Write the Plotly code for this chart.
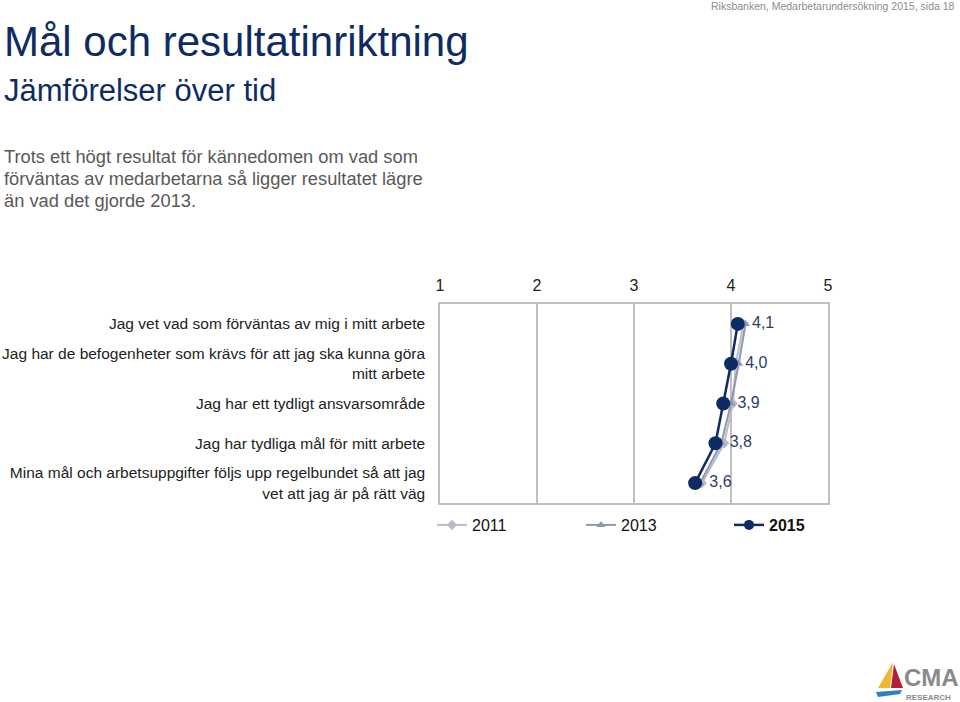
import plotly.graph_objects as go

categories = [
    "Jag vet vad som förväntas av mig i mitt arbete",
    "Jag har de befogenheter som krävs för att jag ska kunna göra<br>mitt arbete",
    "Jag har ett tydligt ansvarsområde",
    "Jag har tydliga mål för mitt arbete",
    "Mina mål och arbetsuppgifter följs upp regelbundet så att jag<br>vet att jag är på rätt väg",
]
v2011 = [4.13, 4.05, 4.02, 3.93, 3.70]
v2013 = [4.15, 4.08, 4.00, 3.90, 3.68]
v2015 = [4.07, 4.00, 3.92, 3.84, 3.63]
labels2015 = ["4,1", "4,0", "3,9", "3,8", "3,6"]
x_ticks = [1, 2, 3, 4, 5]

FONT = "Liberation Sans, Arial, sans-serif"
NAVY = "#0E2C63"

def px_x(p):
    return (p - 440) / 388

def px_y(p):
    return (503 - p) / 199

fig = go.Figure()
fig.add_trace(go.Scatter(
    x=v2011, y=categories, mode="lines+markers", name="2011", legend="legend",
    line=dict(color="#B8BBCB", width=2),
    marker=dict(symbol="diamond", size=8, color="#B8BBCB"),
))
fig.add_trace(go.Scatter(
    x=v2013, y=categories, mode="lines+markers", name="2013", legend="legend2",
    line=dict(color="#9097B0", width=2),
    marker=dict(symbol="triangle-up", size=8, color="#9097B0"),
))
fig.add_trace(go.Scatter(
    x=v2015, y=categories, mode="lines+markers+text", name="2015", showlegend=False,
    line=dict(color=NAVY, width=2.5),
    marker=dict(symbol="circle", size=14, color=NAVY),
    text=[" " + t for t in labels2015], textposition="middle right",
    textfont=dict(family=FONT, size=16, color="#2E3D66"),
))
# legend entry for 2015 with a smaller marker, as in the reference
fig.add_trace(go.Scatter(
    x=[None], y=[None], mode="lines+markers", name="<b>2015</b>", legend="legend3",
    line=dict(color=NAVY, width=2.5),
    marker=dict(symbol="circle", size=10, color=NAVY),
))

leg_common = dict(
    orientation="h", yanchor="middle", y=px_y(525), xanchor="left",
    font=dict(family=FONT, size=16, color="#111111"),
    itemwidth=30, bgcolor="rgba(0,0,0,0)",
)

fig.update_layout(
    width=960, height=702,
    margin=dict(l=440, r=132, t=304, b=199, autoexpand=False),
    paper_bgcolor="white", plot_bgcolor="white",
    font=dict(family=FONT, size=15, color="#222222"),
    showlegend=True,
    legend=dict(x=px_x(432), **leg_common),
    legend2=dict(x=px_x(581), **leg_common),
    legend3=dict(x=px_x(729), **leg_common),
    xaxis=dict(
        range=[1, 5], side="top", tickvals=x_ticks, ticktext=[str(t) for t in x_ticks],
        showgrid=True, gridcolor="#BFBFBF", gridwidth=1.5,
        showline=True, linecolor="#BFBFBF", linewidth=1.5, mirror=True,
        zeroline=False, ticks="", ticklabelstandoff=5,
        tickfont=dict(size=16, color="#222222"),
    ),
    yaxis=dict(
        categoryorder="array", categoryarray=categories,
        range=[4.5, -0.5], showgrid=False,
        showline=True, linecolor="#BFBFBF", linewidth=1.5, mirror=True,
        ticks="", ticklabelstandoff=10,
        tickfont=dict(size=15.5, color="#222222"),
    ),
)

anns = [
    dict(text="Mål och resultatinriktning", x=2, y=42, size=42, color=NAVY),
    dict(text="Jämförelser över tid", x=2, y=91, size=31, color=NAVY),
    dict(text="Trots ett högt resultat för kännedomen om vad som", x=2, y=156, size=18.3, color="#595959"),
    dict(text="förväntas av medarbetarna så ligger resultatet lägre", x=2, y=178, size=18.3, color="#595959"),
    dict(text="än vad det gjorde 2013.", x=2, y=200, size=18.3, color="#595959"),
]
for a in anns:
    fig.add_annotation(
        text=a["text"], xref="paper", yref="paper",
        x=px_x(a["x"]), y=px_y(a["y"]),
        xanchor="left", yanchor="middle", showarrow=False,
        font=dict(family=FONT, size=a["size"], color=a["color"]),
    )
fig.add_annotation(
    text="Riksbanken, Medarbetarundersökning 2015, sida 18", xref="paper", yref="paper",
    x=px_x(957), y=px_y(6), xanchor="right", yanchor="middle",
    showarrow=False, font=dict(family=FONT, size=10.5, color="#8C8C8C"),
)
fig.add_annotation(
    text="<b>CMA</b>", xref="paper", yref="paper",
    x=px_x(902), y=px_y(677), xanchor="left", yanchor="middle",
    showarrow=False, font=dict(family=FONT, size=24, color="#8A8A8A"),
)
fig.add_annotation(
    text="<b>RESEARCH</b>", xref="paper", yref="paper",
    x=px_x(904), y=px_y(697), xanchor="left", yanchor="middle",
    showarrow=False, font=dict(family=FONT, size=8, color="#8A8A8A"),
)

# logo sail decoration (paper coordinates)
def path(points):
    return "M " + " L ".join(f"{px_x(a):.4f},{px_y(b):.4f}" for a, b in points) + " Z"

fig.add_shape(type="path", xref="paper", yref="paper", layer="above",
              path=path([(893, 662), (878, 688), (890, 688)]),
              fillcolor="#F2B632", line=dict(width=0))
fig.add_shape(type="path", xref="paper", yref="paper", layer="above",
              path=path([(894, 664), (891, 688), (903, 688)]),
              fillcolor="#B51F3A", line=dict(width=0))
fig.add_shape(type="path", xref="paper", yref="paper", layer="above",
              path=path([(876, 692), (902, 690), (900, 694), (878, 697)]),
              fillcolor="#2F7FC1", line=dict(width=0))

fig.write_html("out.html")
